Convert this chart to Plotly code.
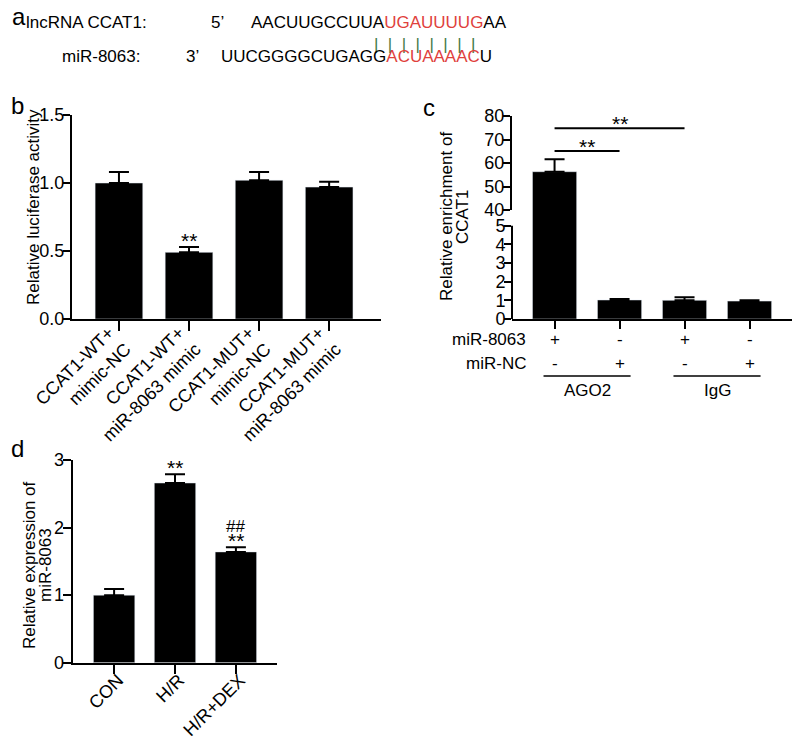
import plotly.graph_objects as go

# the page body adds an 8px margin, so the figure is 8px smaller and coordinates are shifted
OFF = 8
W, H = 800 - OFF, 736 - OFF
FONT = "Liberation Sans, Arial, sans-serif"
RED = "#e0413c"
GREEN = "#3f7a45"

# panel a: sequences
seq_lnc = ["AACUUGCCUUA", "UGAUUUUG", "AA"]
seq_mir = ["UUCGGGGCUGAGG", "ACUAAAAC", "U"]

# panel b: luciferase
b_labels = ["CCAT1-WT+<br>mimic-NC", "CCAT1-WT+<br>miR-8063 mimic",
            "CCAT1-MUT+<br>mimic-NC", "CCAT1-MUT+<br>miR-8063 mimic"]
b_values = [1.00, 0.49, 1.02, 0.97]
b_err = [0.08, 0.04, 0.06, 0.04]
b_marks = ["", "**", "", ""]

# panel c: RIP
c_pos = [0, 1, 2, 3]
c_values = [56.3, 1.02, 1.00, 0.96]
c_err = [5.3, 0.05, 0.17, 0.04]
c_mir8063 = ["+", "-", "+", "-"]
c_mirnc = ["-", "+", "-", "+"]
c_groups = ["AGO2", "IgG"]
c_group_span = [(-0.17, 1.17), (1.83, 3.17)]
c_sig = [(0, 1, 65.1), (0, 2, 74.8)]

# panel d: expression
d_labels = ["CON", "H/R", "H/R+DEX"]
d_values = [1.00, 2.66, 1.64]
d_err = [0.09, 0.13, 0.07]
d_star = ["", "**", "**"]
d_hash = ["", "", "##"]


def px(x):
    return (x - OFF) / W


def py(y):
    return 1 - (y - OFF) / H


def err(vals):
    return dict(type="data", array=vals, symmetric=False, arrayminus=[0] * len(vals),
                color="black", thickness=2, width=10)


fig = go.Figure()
fig.add_trace(go.Bar(x=b_labels, y=b_values, error_y=err(b_err), marker_color="black",
                     xaxis="x", yaxis="y"))
fig.add_trace(go.Bar(x=c_pos, y=c_values, error_y=err(c_err), marker_color="black",
                     xaxis="x2", yaxis="y2"))
fig.add_trace(go.Bar(x=c_pos, y=c_values, error_y=err(c_err), marker_color="black",
                     xaxis="x3", yaxis="y3"))
fig.add_trace(go.Bar(x=d_labels, y=d_values, error_y=err(d_err), marker_color="black",
                     xaxis="x4", yaxis="y4"))

ax = dict(showline=True, linewidth=2, linecolor="black", ticks="outside", tickwidth=2,
          tickcolor="black", showgrid=False, zeroline=False, automargin=False,
          tickfont=dict(family=FONT, size=18, color="black"))
yax = dict(ax, ticklabelstandoff=-5)

# lower part of the broken axis in c reaches 1px into the upper part so the bar is seamless
c_low_top = 209
c_low_max = 5 + (225.7 - c_low_top) / ((319 - 225.7) / 5)

fig.update_layout(
    width=W, height=H, margin=dict(l=0, r=0, t=0, b=0, autoexpand=False),
    paper_bgcolor="white", plot_bgcolor="white", showlegend=False, bargap=0.32,
    font=dict(family=FONT, size=17, color="black"),
    xaxis=dict(ax, domain=[px(72), px(381)], anchor="y", range=[-0.67, 3.74],
               tickangle=-45, ticklen=10, ticklabelstandoff=-16, ticklabelshift=-10),
    yaxis=dict(yax, domain=[py(319), py(115)], anchor="x", range=[0, 1.5], dtick=0.5,
               tickformat=".1f", ticklen=7),
    xaxis2=dict(ax, domain=[px(512), px(795)], anchor="y2", range=[-0.655, 3.70],
                tickvals=c_pos, showticklabels=False, ticklen=8),
    yaxis2=dict(yax, domain=[py(319), py(c_low_top)], anchor="x2", range=[0, c_low_max],
                tickvals=[0, 1, 2, 3, 4, 5], showline=False, ticklen=7),
    xaxis3=dict(domain=[px(512), px(795)], anchor="y3", matches="x2", visible=False),
    yaxis3=dict(yax, domain=[py(210), py(116)], anchor="x3", range=[40, 80], dtick=10,
                ticklen=7),
    xaxis4=dict(ax, domain=[px(72.7), px(276.7)], anchor="y4", range=[-0.68, 2.67],
                tickangle=-45, ticklen=9, ticklabelstandoff=-11, ticklabelshift=4),
    yaxis4=dict(yax, domain=[py(662.7), py(460)], anchor="x4", range=[0, 3], dtick=1,
                ticklen=8),
)

ann = []


def text(x, y, s, size=17, xanchor="left", **kw):
    ann.append(dict(x=px(x), y=py(y), xref="paper", yref="paper", text=s, showarrow=False,
                    xanchor=xanchor, yanchor=kw.pop("yanchor", "middle"),
                    font=dict(family=kw.pop("family", FONT), size=size,
                              color=kw.pop("color", "black")), **kw))


def colored(parts):
    return parts[0] + f'<span style="color:{RED}">{parts[1]}</span>' + parts[2]


# panel letters
text(10, 17, "a", size=24)
text(9, 106, "b", size=24)
text(421, 108, "c", size=24)
text(9, 448, "d", size=24)

# panel a
text(24, 22, "lncRNA CCAT1:", family="Liberation Sans Narrow, Arial Narrow, " + FONT)
text(209, 22, "5’")
text(249, 22, colored(seq_lnc))
text(424, 44, "|  |  |  |  |  |  |  |", color=GREEN, xanchor="center")
text(60, 57, "miR-8063:")
text(184, 57, "3’")
text(219, 57, colored(seq_mir))

# axis titles (separate lines for the tight line spacing of the original)
text(34, 207, "Relative luciferase activity", xanchor="center", textangle=-90)
text(447, 217, "Relative enrichment of", xanchor="center", textangle=-90)
text(463, 217, "CCAT1", xanchor="center", textangle=-90)
text(29, 565, "Relative expression of", xanchor="center", textangle=-90)
text(45, 565, "miR-8063", xanchor="center", textangle=-90)

STAR = dict(family=FONT, size=21)
HASH = dict(family=FONT, size=17)

# significance marks on bars
for lab, v, e, m in zip(b_labels, b_values, b_err, b_marks):
    if m:
        ann.append(dict(x=lab, y=v + e, xref="x", yref="y", text=m, showarrow=False,
                        yanchor="bottom", yshift=-7, font=STAR))
for lab, v, e, s, h in zip(d_labels, d_values, d_err, d_star, d_hash):
    if s:
        ann.append(dict(x=lab, y=v + e, xref="x4", yref="y4", text=s, showarrow=False,
                        yanchor="bottom", yshift=-7, font=STAR))
    if h:
        ann.append(dict(x=lab, y=v + e, xref="x4", yref="y4", text=h, showarrow=False,
                        yanchor="bottom", yshift=9, font=HASH))

# panel c brackets
shapes = [dict(type="line", xref="x2 domain", yref="y2", x0=0, x1=0, y0=0, y1=5,
               line=dict(color="black", width=2))]
for a, b, y in c_sig:
    shapes.append(dict(type="line", xref="x3", yref="y3", x0=a, x1=b, y0=y, y1=y,
                       line=dict(color="black", width=2)))
    ann.append(dict(x=(a + b) / 2, y=y, xref="x3", yref="y3", text="**", showarrow=False,
                    yanchor="bottom", yshift=-9, font=STAR))

# panel c condition table
text(528, 340, "miR-8063", xanchor="right")
text(528, 363, "miR-NC", xanchor="right")
for i, (p, n) in enumerate(zip(c_mir8063, c_mirnc)):
    ann.append(dict(x=c_pos[i], y=py(340), xref="x2", yref="paper", text=p, showarrow=False,
                    font=dict(family=FONT, size=17)))
    ann.append(dict(x=c_pos[i], y=py(363), xref="x2", yref="paper", text=n, showarrow=False,
                    font=dict(family=FONT, size=17)))
for g, (a, b) in zip(c_groups, c_group_span):
    shapes.append(dict(type="line", xref="x2", yref="paper", x0=a, x1=b, y0=py(376), y1=py(376),
                       line=dict(color="black", width=1.5)))
    ann.append(dict(x=(a + b) / 2, y=py(379), xref="x2", yref="paper", text=g, showarrow=False,
                    yanchor="top", font=dict(family=FONT, size=17)))

fig.update_layout(annotations=ann, shapes=shapes)
fig.write_html("out.html")
